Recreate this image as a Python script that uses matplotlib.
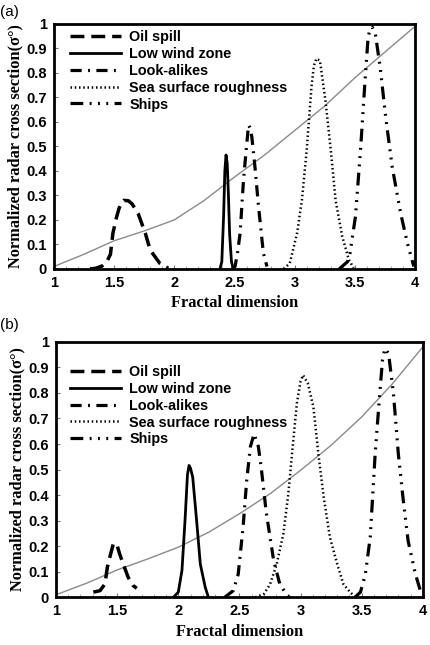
import matplotlib.pyplot as plt
from matplotlib.ticker import MultipleLocator

# ---- panel (a) ----
trend_a_x = [1.0, 1.25, 1.5, 1.75, 2.0, 2.25, 2.5, 2.75, 3.0, 3.25, 3.5, 3.75, 4.0]
trend_a_y = [0.01, 0.06, 0.115, 0.155, 0.20, 0.28, 0.375, 0.465, 0.565, 0.665, 0.78, 0.885, 0.99]

oil_a_x = [1.30, 1.35, 1.40, 1.44, 1.47, 1.49, 1.52, 1.54, 1.56, 1.58, 1.62, 1.65, 1.70, 1.76, 1.80, 1.88, 1.95]
oil_a_y = [0.0, 0.003, 0.012, 0.03, 0.06, 0.145, 0.21, 0.245, 0.27, 0.28, 0.278, 0.265, 0.226, 0.145, 0.077, 0.023, 0.003]

wind_a_x = [2.38, 2.395, 2.41, 2.42, 2.43, 2.44, 2.45, 2.46, 2.475, 2.49]
wind_a_y = [0.0, 0.03, 0.22, 0.40, 0.465, 0.43, 0.30, 0.14, 0.03, 0.0]

look_a_x = [2.48, 2.505, 2.525, 2.547, 2.575, 2.60, 2.617, 2.63, 2.644, 2.67, 2.70, 2.74, 2.77]
look_a_y = [0.0, 0.01, 0.065, 0.146, 0.363, 0.50, 0.587, 0.575, 0.54, 0.417, 0.255, 0.065, 0.01]

sea_a_x = [2.91, 2.96, 3.02, 3.06, 3.10, 3.14, 3.16, 3.18, 3.21, 3.255, 3.30, 3.34, 3.395, 3.45, 3.49]
sea_a_y = [0.0, 0.024, 0.146, 0.28, 0.485, 0.745, 0.83, 0.858, 0.85, 0.69, 0.485, 0.28, 0.133, 0.038, 0.004]

ship_a_x = [3.37, 3.44, 3.46, 3.505, 3.547, 3.583, 3.61, 3.625, 3.644, 3.67, 3.71, 3.756, 3.81, 3.88, 3.936, 3.99]
ship_a_y = [0.0, 0.03, 0.065, 0.214, 0.485, 0.756, 0.946, 0.975, 0.987, 0.96, 0.824, 0.62, 0.417, 0.228, 0.106, 0.01]

# ---- panel (b) ----
trend_b_x = [1.0, 1.25, 1.5, 1.75, 2.0, 2.25, 2.5, 2.75, 3.0, 3.25, 3.5, 3.75, 4.0]
trend_b_y = [0.01, 0.055, 0.107, 0.15, 0.196, 0.255, 0.327, 0.405, 0.497, 0.595, 0.706, 0.835, 0.98]

oil_b_x = [1.305, 1.36, 1.40, 1.42, 1.44, 1.47, 1.50, 1.52, 1.55, 1.59, 1.63, 1.66]
oil_b_y = [0.02, 0.026, 0.052, 0.118, 0.157, 0.212, 0.203, 0.17, 0.13, 0.078, 0.046, 0.035]

wind_b_x = [1.96, 2.0, 2.03, 2.055, 2.075, 2.088, 2.10, 2.118, 2.15, 2.18, 2.22, 2.246]
wind_b_y = [0.0, 0.02, 0.105, 0.30, 0.48, 0.516, 0.505, 0.47, 0.30, 0.13, 0.04, 0.0]

look_b_x = [2.38, 2.45, 2.49, 2.53, 2.56, 2.59, 2.62, 2.655, 2.68, 2.72, 2.78, 2.83, 2.89, 2.91]
look_b_y = [0.0, 0.026, 0.09, 0.275, 0.46, 0.59, 0.64, 0.59, 0.50, 0.33, 0.144, 0.052, 0.007, 0.0]

sea_b_x = [2.63, 2.70, 2.75, 2.805, 2.86, 2.90, 2.93, 2.97, 3.0, 3.02, 3.06, 3.105, 3.146, 3.19, 3.24, 3.30, 3.35, 3.405, 3.445]
sea_b_y = [0.0, 0.013, 0.05, 0.13, 0.25, 0.405, 0.56, 0.76, 0.845, 0.87, 0.837, 0.745, 0.56, 0.39, 0.235, 0.13, 0.052, 0.02, 0.003]

ship_b_x = [3.445, 3.49, 3.53, 3.57, 3.61, 3.645, 3.67, 3.69, 3.72, 3.76, 3.80, 3.84, 3.88, 3.94, 3.98]
ship_b_y = [0.0, 0.02, 0.09, 0.235, 0.56, 0.78, 0.928, 0.974, 0.954, 0.797, 0.56, 0.38, 0.22, 0.09, 0.026]

labels = ['Oil spill', 'Low wind zone', 'Look-alikes', 'Sea surface roughness', 'Ships']
estilos = [
    dict(lw=2.5, linestyle=(0, (4, 2))),
    dict(lw=2.0, linestyle='-'),
    dict(lw=2.3, linestyle=(0, (3.5, 2, 0.6, 2))),
    dict(lw=1.8, linestyle=(0, (0.6, 1.1))),
    dict(lw=2.3, linestyle=(0, (4, 2, 0.6, 2, 0.6, 2, 0.6, 2))),
]

sans = 'Liberation Sans'
serif = 'Liberation Serif'

fig = plt.figure(figsize=(4.31, 6.45), dpi=100)
ax_a = fig.add_axes([0.125, 0.583, 0.838, 0.380])
ax_b = fig.add_axes([0.130, 0.074, 0.851, 0.396])


def dibujar(ax, trend, curvas, leg_anchor):
    ax.plot(trend[0], trend[1], color='#8a8a8a', lw=1.0)
    handles = []
    for (xs, ys), lab, st in zip(curvas, labels, estilos):
        h, = ax.plot(xs, ys, color='black', label=lab, **st)
        handles.append(h)
    ax.set_xlim(1, 4)
    ax.set_ylim(0, 1)
    ax.xaxis.set_minor_locator(MultipleLocator(0.1))
    ax.set_xticks([1, 1.5, 2, 2.5, 3, 3.5, 4])
    ax.set_xticklabels(['1', '1.5', '2', '2.5', '3', '3.5', '4'])
    ax.set_yticks([i / 10 for i in range(11)])
    ax.set_yticklabels(['0'] + ['%.1f' % (i / 10) for i in range(1, 10)] + ['1'])
    for lab in ax.get_xticklabels() + ax.get_yticklabels():
        lab.set_fontfamily(sans)
        lab.set_fontweight('bold')
        lab.set_fontsize(10.5)
    ax.tick_params(which='major', direction='in', length=3, width=0.8, color='#777777', pad=5)
    ax.tick_params(which='minor', direction='in', length=2, width=0.6, color='#999999')
    for sp in ax.spines.values():
        sp.set_linewidth(2.0)
    ax.set_xlabel('Fractal dimension', fontfamily=serif, fontweight='bold', fontsize=11.8, labelpad=4)
    ax.set_ylabel('Normalized radar cross section(σ°)', fontfamily=serif, fontweight='bold',
                  fontsize=11.8, labelpad=2)
    ax.legend(handles=handles, loc='upper left', bbox_to_anchor=leg_anchor, frameon=False,
              prop={'family': sans, 'weight': 'bold', 'size': 10.4},
              handlelength=3.5, handletextpad=0.6, labelspacing=0.2,
              borderaxespad=0, borderpad=0)


dibujar(ax_a, (trend_a_x, trend_a_y),
        [(oil_a_x, oil_a_y), (wind_a_x, wind_a_y), (look_a_x, look_a_y),
         (sea_a_x, sea_a_y), (ship_a_x, ship_a_y)], (0.045, 0.975))
dibujar(ax_b, (trend_b_x, trend_b_y),
        [(oil_b_x, oil_b_y), (wind_b_x, wind_b_y), (look_b_x, look_b_y),
         (sea_b_x, sea_b_y), (ship_b_x, ship_b_y)], (0.038, 0.91))

fig.text(0.0, 0.982, '(a)', fontfamily=sans, fontsize=11, va='center', ha='left')
fig.text(0.0, 0.496, '(b)', fontfamily=sans, fontsize=11, va='center', ha='left')

fig.savefig('out.png', dpi=100)
